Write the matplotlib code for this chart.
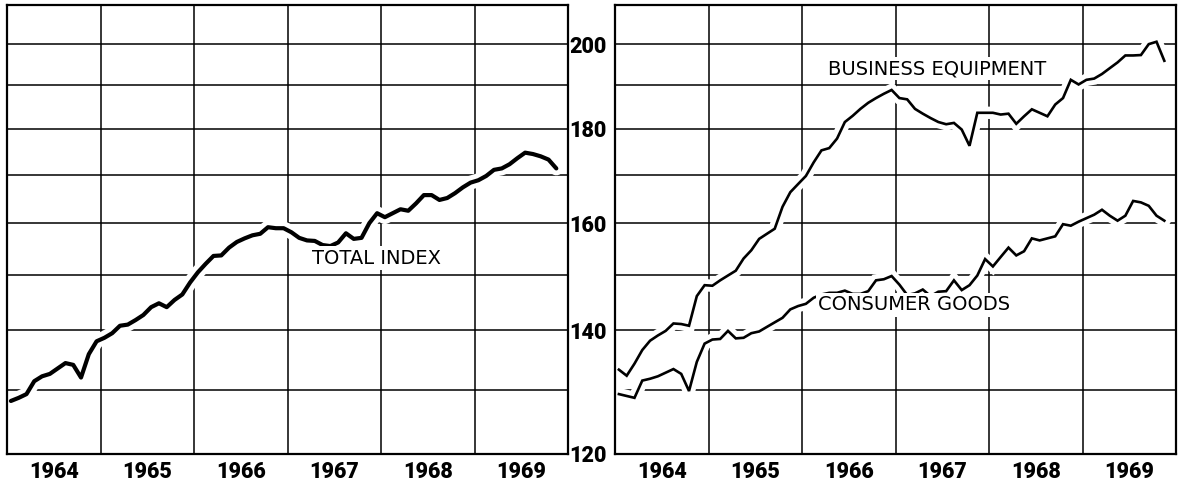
import numpy as np
import matplotlib
matplotlib.use("Agg")
import matplotlib.pyplot as plt
import matplotlib.patheffects as pe
from matplotlib.ticker import FixedLocator, NullFormatter, FixedFormatter

# Monthly data, Jan 1964 - Nov 1969 (index, 1957-59 = 100)
start_year = 1964
total_index = [
    128.2, 128.7, 129.3, 131.4, 132.2, 132.6, 133.5, 134.4, 134.1, 132.0, 135.9, 138.1,
    138.7, 139.5, 140.8, 141.0, 141.8, 142.7, 144.1, 144.8, 144.1, 145.4, 146.4, 148.6,
    150.5, 152.1, 153.6, 153.7, 155.2, 156.3, 157.0, 157.6, 157.9, 159.2, 159.0, 159.0,
    158.2, 157.1, 156.6, 156.5, 155.7, 155.5, 156.2, 158.0, 156.9, 157.1, 160.0, 162.0,
    161.2, 162.0, 162.8, 162.5, 164.0, 165.7, 165.7, 164.7, 165.1, 166.1, 167.3, 168.3,
    168.8, 169.7, 171.0, 171.3, 172.2, 173.5, 174.7, 174.4, 173.9, 173.2, 171.3,
]
business_equipment = [
    133.3, 132.3, 134.3, 136.6, 138.2, 139.1, 139.9, 141.2, 141.1, 140.8, 146.1, 148.1,
    148.0, 149.0, 149.9, 150.8, 153.1, 154.7, 156.9, 157.9, 158.9, 163.3, 166.3, 168.0,
    169.7, 172.6, 175.2, 175.7, 177.8, 181.5, 182.9, 184.5, 185.9, 187.0, 188.0, 188.9,
    187.0, 186.7, 184.5, 183.4, 182.4, 181.5, 181.0, 181.3, 179.8, 176.2, 183.6, 183.6,
    183.6, 183.2, 183.4, 181.1, 182.8, 184.4, 183.6, 182.8, 185.5, 187.0, 191.3, 190.2,
    191.3, 191.6, 192.7, 194.1, 195.5, 197.2, 197.2, 197.3, 200.0, 200.6, 195.9,
]
consumer_goods = [
    129.3, 129.0, 128.7, 131.5, 131.8, 132.2, 132.8, 133.4, 132.6, 129.8, 134.6, 137.7,
    138.4, 138.5, 139.9, 138.6, 138.7, 139.5, 139.8, 140.6, 141.4, 142.2, 143.7, 144.3,
    144.7, 145.8, 146.4, 146.7, 146.7, 147.1, 146.5, 146.5, 147.0, 149.0, 149.2, 149.8,
    148.2, 146.3, 146.6, 147.3, 146.1, 146.9, 147.0, 149.0, 147.2, 148.1, 149.9, 153.0,
    151.6, 153.4, 155.2, 153.7, 154.5, 157.0, 156.6, 157.0, 157.4, 159.8, 159.5, 160.3,
    161.0, 161.7, 162.7, 161.5, 160.5, 161.5, 164.5, 164.2, 163.5, 161.5, 160.5,
]
years = ["1964", "1965", "1966", "1967", "1968", "1969"]
y_grid = [120, 130, 140, 150, 160, 170, 180, 190, 200]
y_labels = ["120", "", "140", "", "160", "", "180", "", "200"]

x = start_year + (np.arange(len(total_index)) + 0.5) / 12.0

num_font = ["Roboto", "DejaVu Sans"]

fig = plt.figure(figsize=(11.82, 4.82), dpi=100)
ax_l = fig.add_axes([7 / 1182, 28 / 482, 561 / 1182, 449 / 482])
ax_r = fig.add_axes([615 / 1182, 28 / 482, 561 / 1182, 449 / 482])

for ax in (ax_l, ax_r):
    ax.set_yscale("log")
    ax.set_ylim(120, 210)
    ax.set_xlim(1964, 1970)
    ax.yaxis.set_major_locator(FixedLocator(y_grid))
    ax.yaxis.set_minor_locator(FixedLocator([]))
    ax.xaxis.set_major_locator(FixedLocator(list(range(1965, 1970))))
    ax.xaxis.set_major_formatter(NullFormatter())
    ax.xaxis.set_minor_locator(FixedLocator([1964.5 + i for i in range(6)]))
    ax.xaxis.set_minor_formatter(FixedFormatter(years))
    ax.tick_params(which="both", length=0)
    ax.tick_params(axis="x", which="minor", pad=5, labelsize=15.5)
    for t in ax.xaxis.get_minorticklabels():
        t.set_family(num_font)
        t.set_fontweight("black")
    ax.grid(True, which="major", color="black", linewidth=1.1)
    ax.set_axisbelow(True)
    for s in ax.spines.values():
        s.set_linewidth(1.6)
        s.set_color("black")

ax_l.yaxis.set_major_formatter(NullFormatter())
ax_r.yaxis.set_major_formatter(FixedFormatter(y_labels))
ax_r.tick_params(axis="y", pad=6, labelsize=15.5)
for t in ax_r.get_yticklabels():
    t.set_family(num_font)
    t.set_fontweight("black")

halo = lambda w: [pe.Stroke(linewidth=w + 7, foreground="white"), pe.Normal()]

ax_l.plot(x, total_index, color="black", linewidth=3.0,
          solid_joinstyle="round", solid_capstyle="round", path_effects=halo(3.0))
ax_r.plot(x, business_equipment, color="black", linewidth=1.9,
          solid_joinstyle="miter", path_effects=halo(1.9))
ax_r.plot(x, consumer_goods, color="black", linewidth=1.9,
          solid_joinstyle="miter", path_effects=halo(1.9))

txt = dict(fontsize=14, color="black", ha="center", va="center",
           family=["DejaVu Sans"], fontweight="medium",
           bbox=dict(facecolor="white", edgecolor="none", pad=1.5))
ax_l.text(1967.95, 153.2, "TOTAL INDEX", **txt)
ax_r.text(1967.45, 194.0, "BUSINESS EQUIPMENT", **txt)
ax_r.text(1967.2, 144.5, "CONSUMER GOODS", **txt)

fig.savefig("out.png", dpi=100, facecolor="white")
